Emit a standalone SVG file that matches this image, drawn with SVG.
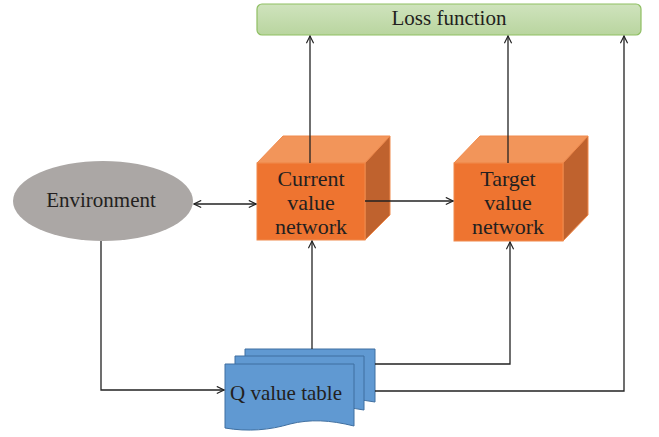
<svg xmlns="http://www.w3.org/2000/svg" width="659" height="437" viewBox="0 0 659 437">
<defs>
<linearGradient id="g" x1="0" y1="0" x2="0" y2="1"><stop offset="0" stop-color="#cfe3bd"/><stop offset="1" stop-color="#b9d59f"/></linearGradient>
<marker id="a" viewBox="0 0 10 10" refX="9" refY="5" markerWidth="9" markerHeight="9" orient="auto-start-reverse" markerUnits="userSpaceOnUse"><path d="M1,1 L9,5 L1,9" fill="none" stroke="#222" stroke-width="1.3"/></marker>
<style>
.t{font-family:"Liberation Serif",serif;font-size:21px;fill:#231f20;text-anchor:middle}
.tc{font-size:22px}
.c{fill:none;stroke:#222;stroke-width:1.3}
.ff{fill:#ee7430;stroke:#f08a4c;stroke-width:1}
.ft{fill:#f2955a;stroke:#f08a4c;stroke-width:1}
.fr{fill:#bf622e;stroke:#f08a4c;stroke-width:1}
.doc{fill:#6099d2;stroke:#3f6fa0;stroke-width:1}
</style>
</defs>
<g id="loss">
<rect x="257" y="4" width="384" height="31" rx="5" fill="url(#g)" stroke="#8fbf63" stroke-width="1.2"/>
<text class="t" x="449" y="25">Loss function</text>
</g>
<g id="environment">
<ellipse cx="103" cy="201" rx="90" ry="40" fill="#aba7a5"/>
<text class="t" x="101" y="207">Environment</text>
</g>
<g id="current">
<path class="ft" d="M257,163 L283,136 L390,136 L365,163 Z"/>
<path class="fr" d="M365,163 L390,136 L390,215 L365,240 Z"/>
<rect class="ff" x="257" y="163" width="108" height="77"/>
<text class="t tc" x="311" y="186">Current</text>
<text class="t tc" x="311" y="210">value</text>
<text class="t tc" x="311" y="234">network</text>
</g>
<g id="target">
<path class="ft" d="M454,163 L480,136 L588,136 L563,163 Z"/>
<path class="fr" d="M563,163 L588,136 L588,215 L563,241 Z"/>
<rect class="ff" x="454" y="163" width="109" height="78"/>
<text class="t tc" x="508" y="186">Target</text>
<text class="t tc" x="508" y="210">value</text>
<text class="t tc" x="508" y="234">network</text>
</g>
<g id="qtable">
<path class="doc" d="M245,349 L375,349 L375,402 C350,398 330,396 310,401 C290,406 270,408 245,404 Z"/>
<path class="doc" d="M235,356 L364,356 L364,410 C340,406 320,404 300,409 C280,414 260,416 235,412 Z"/>
<path class="doc" d="M225,364 L354,364 L354,426 C330,420 310,419 290,424 C270,430 248,432 225,428 Z"/>
<text class="t" x="286" y="400">Q value table</text>
</g>
<g id="connectors">
<path class="c" d="M310,163 L310,36" marker-end="url(#a)"/>
<path class="c" d="M508,163 L508,36" marker-end="url(#a)"/>
<path class="c" d="M375,391 L624,391 L624,36" marker-end="url(#a)"/>
<path class="c" d="M375,364 L510,364 L510,242" marker-end="url(#a)"/>
<path class="c" d="M312,349 L312,241" marker-end="url(#a)"/>
<path class="c" d="M365,201 L453,201" marker-end="url(#a)"/>
<path class="c" d="M194,204 L256,204" marker-start="url(#a)" marker-end="url(#a)"/>
<path class="c" d="M101,241 L101,390 L224,390" marker-end="url(#a)"/>
</g>
</svg>
